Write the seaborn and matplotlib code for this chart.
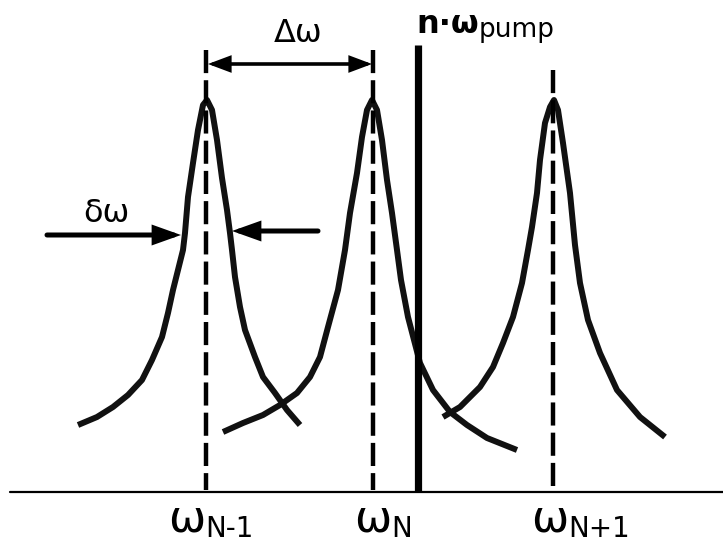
import numpy as np
import pandas as pd
import matplotlib
matplotlib.use("Agg")
import matplotlib.pyplot as plt
import seaborn as sns
from matplotlib.patches import FancyArrowPatch

# ---------------- data (pixel-like units) ----------------
peak_names = ["N-1", "N", "N+1"]
peak_centers = [206, 373, 553]
dash_tops = [50, 50, 70]
label_left = [172, 358, 535]
axis_y = 492
pump_x = 418
pump_top = 45

# resonance curves (x, y); y grows downward
p1_x = [78, 97, 113, 128, 142, 152, 162, 168, 173, 178, 183, 185, 188, 193, 198, 203, 207,
        212, 217, 222, 227, 230, 232, 235, 240, 245, 255, 263, 275, 287, 300]
p1_y = [425, 417, 407, 395, 380, 360, 337, 313, 290, 270, 250, 233, 197, 163, 130, 105, 100,
        110, 140, 178, 210, 233, 250, 277, 307, 330, 357, 377, 393, 410, 425]

p2_x = [223, 243, 263, 280, 297, 310, 320, 328, 338, 345, 350, 357, 362, 367, 372,
        377, 382, 387, 392, 397, 401, 408, 420, 433, 450, 467, 487, 517]
p2_y = [432, 423, 415, 405, 393, 377, 357, 327, 290, 250, 213, 173, 137, 110, 100,
        110, 140, 180, 213, 250, 280, 317, 363, 390, 412, 425, 438, 450]

p3_x = [443, 460, 480, 493, 503, 513, 522, 528, 532, 537, 540, 545, 550, 554,
        558, 563, 570, 575, 580, 588, 600, 617, 640, 665]
p3_y = [417, 407, 387, 367, 343, 317, 283, 250, 227, 193, 160, 123, 107, 100,
        110, 143, 193, 245, 283, 320, 353, 390, 417, 437]

# arrows
dw_big = ([208, 372], [64, 64])          # Δω
dw_left = ([47, 181], [235, 235])        # δω left arrow
dw_right = ([318, 232], [231, 231])      # δω right arrow

# ---------------- figure ----------------
sns.set_theme(style="white")
plt.rcParams['font.family'] = ['DejaVu Sans']

fig = plt.figure(figsize=(7.23, 5.42), dpi=100)
ax = fig.add_axes([0, 0, 1, 1])
ax.set_xlim(0, 723)
ax.set_ylim(542, 0)
ax.axis('off')

df = pd.concat([
    pd.DataFrame({"x": xs, "y": ys, "peak": name})
    for xs, ys, name in [(p1_x, p1_y, "N-1"), (p2_x, p2_y, "N"), (p3_x, p3_y, "N+1")]
])
sns.lineplot(data=df, x="x", y="y", units="peak", estimator=None, sort=False,
             color="#111111", linewidth=4.3, ax=ax, legend=False)
for ln in ax.lines:
    ln.set_solid_joinstyle("round")
    ln.set_solid_capstyle("butt")

# dashed centre lines
for c, t in zip(peak_centers, dash_tops):
    ax.plot([c, c], [t, axis_y - 2], color="black", lw=3.2,
            dashes=(5.2, 1.6), dash_capstyle="butt")

# baseline
ax.axhline(axis_y, xmin=10 / 723, xmax=1, color="black", lw=1.6)

# pump line
ax.plot([pump_x, pump_x], [pump_top, axis_y], color="black", lw=5.2,
        solid_capstyle="butt")

# arrows
def arrow(p, style, lw):
    a = FancyArrowPatch((p[0][0], p[1][0]), (p[0][1], p[1][1]), arrowstyle=style,
                        mutation_scale=1, lw=lw, color="black",
                        shrinkA=0, shrinkB=0, joinstyle="miter")
    ax.add_patch(a)

arrow(dw_big, "<|-|>,head_length=12,head_width=4.5", 2.6)
arrow(dw_left, "-|>,head_length=14,head_width=5", 3.6)
arrow(dw_right, "-|>,head_length=14,head_width=5", 3.6)

# texts
ax.text(298, 34, "Δω", ha="center", va="center", fontsize=23, color="black")
ax.text(106, 213, "δω", ha="center", va="center", fontsize=23, color="black")

fig.canvas.draw()

def with_sub(x, y, main, sub, main_size, sub_size, sub_dy, weight="normal"):
    t = ax.text(x, y, main, ha="left", va="baseline", fontsize=main_size,
                fontweight=weight, color="black")
    fig.canvas.draw()
    bb = t.get_window_extent()
    x1 = ax.transData.inverted().transform((bb.x1, bb.y0))[0]
    ax.text(x1, y + sub_dy, sub, ha="left", va="baseline", fontsize=sub_size,
            color="black")

with_sub(416, 33, "n·ω", "pump", 23, 19, 4, weight="bold")
for lx, name in zip(label_left, peak_names):
    with_sub(lx - 4, 532, "ω", name, 32, 20, 5)

fig.savefig("out.png", dpi=100)
